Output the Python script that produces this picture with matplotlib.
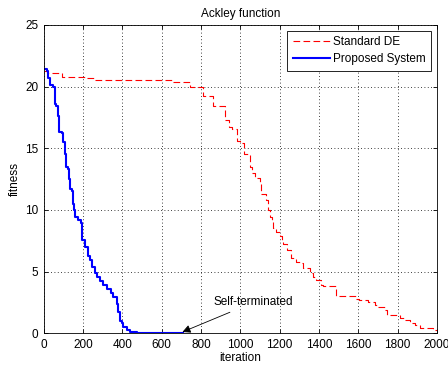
import matplotlib
matplotlib.use("Agg")
import matplotlib.pyplot as plt

# Standard DE (red dashed)
de_iter = [0, 14, 90, 209, 260, 650, 743, 811, 862, 921, 940, 955, 981, 997,
           1020, 1048, 1060, 1074, 1100, 1107, 1133, 1140, 1150, 1159, 1167,
           1184, 1200, 1210, 1218, 1235, 1260, 1285, 1310, 1319, 1353, 1370,
           1387, 1413, 1421, 1485, 1590, 1605, 1650, 1684, 1700, 1735, 1745,
           1813, 1838, 1863, 1890, 1915, 1983, 2000]
de_fit = [21.3, 21.1, 20.8, 20.7, 20.5, 20.4, 20.0, 19.2, 18.4, 17.3, 16.7,
          16.6, 15.6, 15.4, 14.5, 13.5, 13.0, 12.6, 12.2, 11.3, 10.8, 10.0,
          9.4, 9.0, 8.5, 8.2, 7.9, 7.4, 7.2, 6.75, 6.1, 5.75, 5.7, 5.3, 4.9,
          4.55, 4.3, 3.9, 3.8, 3.0, 2.8, 2.7, 2.55, 2.27, 2.1, 1.87, 1.5,
          1.2, 1.05, 0.8, 0.65, 0.4, 0.3, 0.3]

# Proposed System (blue solid)
ps_iter = [0, 14, 22, 30, 47, 56, 64, 73, 78, 90, 98, 107, 115, 124, 129,
           132, 141, 149, 153, 158, 175, 187, 195, 209, 225, 235, 243, 260,
           268, 285, 302, 319, 344, 353, 370, 378, 387, 395, 403, 421, 438,
           472, 709]
ps_fit = [21.4, 21.3, 20.7, 20.1, 20.0, 18.6, 18.4, 17.6, 16.3, 16.2, 15.5,
          14.5, 13.5, 13.3, 12.5, 11.7, 11.5, 10.5, 10.0, 9.4, 9.2, 8.9, 7.6,
          7.0, 6.3, 5.9, 5.4, 4.9, 4.6, 4.2, 3.9, 3.6, 3.3, 2.9, 2.4, 1.7,
          1.0, 0.8, 0.5, 0.25, 0.1, 0.05, 0.05]

x_ticks = list(range(0, 2001, 200))
y_ticks = [0, 5, 10, 15, 20, 25]

plt.rcParams['font.family'] = ['Liberation Sans', 'DejaVu Sans']
plt.rcParams['font.size'] = 8.5

fig = plt.figure(figsize=(4.48, 3.67), dpi=100)
ax = fig.add_axes([0.098, 0.092, 0.877, 0.840])

ax.plot(de_iter, de_fit, color='red', linestyle=(0, (6, 3)), linewidth=0.8,
        drawstyle='steps-post', label='Standard DE')
ax.plot(ps_iter, ps_fit, color='blue', linewidth=1.5,
        drawstyle='steps-post', label='Proposed System')

ax.annotate('Self-terminated', xy=(705, 0.1), xytext=(865, 2.5),
            fontsize=8.5, va='center', ha='left',
            arrowprops=dict(arrowstyle='-|>', color='black', lw=0.6,
                            mutation_scale=12, shrinkA=2, shrinkB=0))

ax.set_xlim(0, 2000)
ax.set_ylim(0, 25)
ax.set_xticks(x_ticks)
ax.set_yticks(y_ticks)
ax.tick_params(direction='in', length=3, top=True, right=True, width=0.6,
               labelsize=8.5, pad=4)
ax.grid(True, linestyle=(0, (1, 3)), color='black', linewidth=0.6)
for s in ax.spines.values():
    s.set_linewidth(0.6)

ax.set_title('Ackley function', fontsize=8.5, pad=6)
ax.set_xlabel('iteration', fontsize=8.5, labelpad=1)
ax.set_ylabel('fitness', fontsize=8.5, labelpad=3)

leg = ax.legend(loc='upper right', fontsize=8.5, fancybox=False,
                edgecolor='black', framealpha=1, borderpad=0.45,
                handlelength=3.2, handletextpad=0.2, labelspacing=0.45,
                borderaxespad=0.5)
leg.get_frame().set_linewidth(0.6)

fig.savefig('out.png', dpi=100)
